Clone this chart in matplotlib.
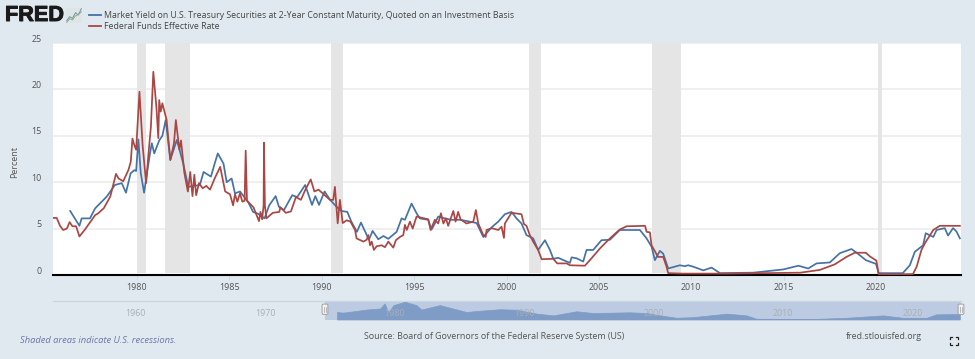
import matplotlib
matplotlib.use("Agg")
import matplotlib.pyplot as plt
import matplotlib.patheffects as pe
from matplotlib.patches import FancyBboxPatch
from matplotlib.transforms import ScaledTranslation

plt.rcParams['font.family'] = ['Open Sans', 'DejaVu Sans']

W, H = 975, 359
BG = '#e1e9f0'
BLUE = '#4572a7'
RED = '#aa4643'
TXT = '#555555'

ffr_years = [1975.47,1975.65,1975.83,1976.0,1976.2,1976.35,1976.5,1976.7,1976.88,1977.18,1977.73,1977.9,1978.2,1978.55,1978.86,1979.0,1979.25,1979.53,1979.66,1979.75,1979.85,1979.95,1980.13,1980.3,1980.49,1980.62,1980.75,1980.88,1981.05,1981.15,1981.2,1981.28,1981.37,1981.6,1981.8,1982.0,1982.1,1982.29,1982.38,1982.56,1982.75,1982.88,1983.0,1983.1,1983.2,1983.35,1983.55,1983.75,1983.95,1984.2,1984.5,1984.77,1985.03,1985.2,1985.3,1985.43,1985.57,1985.7,1985.82,1985.88,1985.95,1986.3,1986.6,1986.68,1986.77,1986.85,1986.87,1986.92,1987.0,1987.35,1987.7,1987.76,1988.05,1988.33,1988.6,1988.87,1989.1,1989.4,1989.6,1989.82,1990.44,1990.62,1990.71,1990.86,1990.98,1991.13,1991.35,1991.55,1991.8,1991.88,1992.25,1992.43,1992.52,1992.61,1992.7,1992.82,1992.97,1993.24,1993.42,1993.6,1993.87,1994.01,1994.23,1994.41,1994.5,1994.6,1994.77,1994.92,1995.13,1995.76,1995.89,1996.12,1996.3,1996.45,1996.58,1996.72,1996.84,1997.12,1997.24,1997.38,1997.51,1997.83,1998.2,1998.34,1998.47,1998.74,1998.87,1998.92,1999.2,1999.55,1999.73,1999.86,1999.91,2000.27,2000.81,2000.94,2001.08,2001.26,2001.44,2001.71,2001.9,2002.53,2002.74,2003.25,2003.43,2004.24,2004.6,2005.05,2005.6,2006.13,2006.5,2007.5,2007.58,2007.76,2007.85,2008.2,2008.48,2008.66,2008.75,2009.5,2012.0,2015.9,2016.96,2017.77,2018.4,2018.85,2019.45,2019.67,2020.02,2020.14,2021.0,2022.0,2022.2,2022.46,2022.64,2023.1,2023.45,2024.54]
ffr_values = [6.15,6.15,5.3,4.85,5.0,5.7,5.25,5.25,4.15,4.9,6.45,6.65,7.2,8.45,10.9,10.4,10.1,11.3,12.2,14.7,14.0,13.5,19.75,14.0,9.9,13.1,16.0,21.9,18.0,14.75,18.85,17.6,18.5,16.7,12.4,14.2,16.7,13.5,14.5,11.0,9.0,11.1,8.5,10.8,8.6,9.9,9.35,9.6,9.2,10.4,11.65,9.0,8.7,7.5,8.7,7.9,8.8,7.9,8.0,13.4,8.0,7.3,5.8,6.8,6.0,7.5,14.25,7.5,6.1,6.7,6.8,7.3,6.7,6.85,8.4,8.1,9.15,10.3,9.0,9.2,8.1,8.1,9.5,5.57,8.1,5.6,5.9,5.75,4.85,3.95,3.6,3.8,4.3,3.2,3.6,2.7,3.1,3.2,3.0,3.6,2.95,3.75,4.1,4.3,5.4,4.85,5.75,5.0,6.3,6.0,4.85,5.95,5.55,6.65,5.55,6.1,5.3,6.9,5.75,6.8,6.0,5.55,5.75,7.0,5.55,4.3,4.1,4.85,5.05,4.85,5.2,4.0,5.55,6.7,6.55,5.5,5.3,4.3,3.6,2.7,1.7,1.75,1.25,1.25,1.05,1.0,1.8,2.85,3.95,4.9,5.25,5.3,4.65,4.6,3.2,1.95,1.95,0.9,0.2,0.15,0.15,0.25,0.55,1.15,1.95,2.4,2.4,2.0,1.55,0.1,0.08,0.1,0.9,2.7,3.4,4.85,5.3,5.3]

gs2_years = [1976.38,1976.88,1977.0,1977.45,1977.73,1978.36,1978.8,1979.17,1979.4,1979.65,1979.85,1979.95,1980.07,1980.2,1980.38,1980.7,1980.8,1980.93,1981.1,1981.2,1981.37,1981.55,1981.8,1982.15,1982.3,1982.5,1982.77,1983.4,1983.6,1984.0,1984.2,1984.37,1984.68,1984.85,1985.12,1985.3,1985.57,1986.0,1986.28,1986.55,1986.9,1987.15,1987.5,1987.68,1987.95,1988.4,1988.67,1989.1,1989.47,1989.65,1989.85,1990.15,1990.45,1990.8,1991.07,1991.38,1991.6,1991.9,1992.12,1992.43,1992.55,1992.75,1993.06,1993.33,1993.6,1994.05,1994.32,1994.5,1994.86,1995.13,1995.31,1995.76,1995.94,1996.12,1996.3,1996.66,1997.0,1997.5,1998.38,1998.74,1999.2,1999.55,1999.91,2000.27,2000.54,2000.81,2001.08,2001.44,2001.71,2002.08,2002.35,2002.53,2002.8,2003.43,2003.52,2003.79,2004.15,2004.33,2004.69,2005.14,2005.6,2006.13,2006.95,2007.22,2007.58,2007.85,2008.03,2008.3,2008.48,2008.75,2009.38,2009.65,2009.83,2010.1,2010.65,2011.1,2011.55,2013.35,2014.98,2015.8,2016.33,2016.78,2017.5,2018.04,2018.67,2018.95,2019.45,2020.0,2020.14,2021.45,2021.83,2022.1,2022.55,2022.69,2023.1,2023.28,2023.72,2023.9,2024.17,2024.35,2024.54]
gs2_values = [6.9,5.3,6.1,6.1,7.18,8.45,9.7,9.9,8.87,10.95,11.3,11.2,14.6,11.0,8.87,13.1,14.2,13.1,14.0,14.5,15.0,16.7,12.4,14.55,13.5,12.0,9.5,9.7,11.1,10.6,12.0,13.1,12.0,10.0,10.4,8.8,9.0,7.9,6.8,6.6,6.1,7.5,8.5,7.35,7.0,8.6,8.4,9.7,7.55,8.5,7.55,9.0,8.1,7.35,6.9,6.8,5.75,4.65,5.65,4.3,3.8,4.75,3.85,4.2,3.9,4.65,6.1,5.95,7.7,6.65,6.1,5.95,4.9,5.55,6.3,6.1,5.95,5.95,5.6,4.1,5.15,5.75,6.55,6.8,6.1,5.55,4.3,3.95,2.7,3.75,2.7,1.75,1.85,1.3,1.9,1.8,1.45,2.7,2.7,3.75,3.8,4.85,4.85,4.85,3.95,3.05,1.6,2.6,2.3,0.7,1.05,0.95,1.05,0.9,0.5,0.8,0.2,0.25,0.6,1.0,0.7,1.25,1.35,2.35,2.8,2.4,1.6,1.2,0.2,0.2,1.05,2.5,3.2,4.5,4.1,4.85,5.05,4.25,5.05,4.7,3.95]

nav_years = [1975.45,1975.95,1977.8,1978.85,1979.2,1979.5,1979.9,1980.8,1981.7,1982.1,1983.55,1985.65,1986.45,1988.3,1989.6,1991.2,1992.5,1994.3,1995.65,1998.5,1999.85,2000.9,2002.2,2003.5,2006.15,2007.7,2008.5,2013.0,2015.6,2018.45,2020.0,2021.9,2022.65,2024.5]
nav_values = [7.3,6.7,9.7,10.7,15.7,7.3,14.0,17.3,14.0,9.7,14.0,7.3,8.3,10.0,9.5,5.7,4.0,8.0,6.3,7.0,6.3,4.0,1.7,2.3,5.7,4.0,0.7,0.5,1.7,4.0,1.7,1.7,5.0,5.3]

rec_start = [1980.0,1981.5,1990.5,2001.2,2007.9,2020.1]
rec_end = [1980.5,1982.88,1991.15,2001.88,2009.42,2020.3]

y_ticks = [0,5,10,15,20,25]
x_ticks = [1980,1985,1990,1995,2000,2005,2010,2015,2020]
nav_ticks = [1960,1970,1980,1990,2000,2010,2020]
logo_vals = [1,2,1.6,3,2.4,4]
logo_vals2 = [0.6,1.5,1.2,2.2,2.6,3.2]

XMIN, XMAX = 1975.45, 2024.6
NAVMIN, NAVMAX = 1953.6, 2023.76
NAV_SEL = 1974.6
FS = 6.4

def axpx(x0, y0, x1, y1, **kw):
    return fig.add_axes([x0/W, 1-y1/H, (x1-x0)/W, (y1-y0)/H], **kw)

fig = plt.figure(figsize=(W/100, H/100), dpi=100, facecolor=BG)
bg = axpx(0, 0, W, H)
bg.set_xlim(0, W); bg.set_ylim(H, 0); bg.axis('off')

ax = axpx(53, 43, 961, 275, facecolor='white')
ax.set_xlim(XMIN, XMAX); ax.set_ylim(0, 25)
ax.set_yticks(y_ticks)
ax.set_xticks(x_ticks)
ax.grid(axis='y', color='#ececec', lw=1.2, zorder=1)
ax.grid(axis='x', visible=False)
ax.set_axisbelow(True)
for s in ('top','left','right'):
    ax.spines[s].set_visible(False)
ax.spines['bottom'].set_color('black'); ax.spines['bottom'].set_linewidth(1.5)
ax.tick_params(axis='y', length=0, pad=8, labelsize=FS, labelcolor=TXT)
ax.tick_params(axis='x', length=3.5, width=0.6, color='#ccd6e0', pad=2, labelsize=FS, labelcolor=TXT)
lift = ScaledTranslation(0, 4/100, fig.dpi_scale_trans)
for l in ax.get_yticklabels():
    l.set_verticalalignment('center')
    l.set_transform(l.get_transform() + lift)
for a, b in zip(rec_start, rec_end):
    ax.axvspan(a, b, ymin=0.008, color='#e5e5e5', lw=0, zorder=1.5)
ax.plot(gs2_years, gs2_values, color=BLUE, lw=1.25, zorder=3, solid_joinstyle='round')
ax.plot(ffr_years, ffr_values, color=RED, lw=1.25, zorder=4, solid_joinstyle='round')
ax.set_ylabel('Percent', fontsize=FS, color=TXT)
ax.yaxis.set_label_coords((19-53)/908, 0.485)

# navigator
nav = axpx(53, 301, 961, 319.5, facecolor=BG)
nav.set_xlim(NAVMIN, NAVMAX); nav.set_ylim(0, 18)
for s in nav.spines.values():
    s.set_visible(False)
nav.spines['top'].set_visible(True); nav.spines['top'].set_color('#ccd5de'); nav.spines['top'].set_linewidth(0.9)
nav.axvspan(NAV_SEL, NAVMAX, color='#bccbe2', lw=0, zorder=1)
nav.set_xticks([]); nav.set_yticks([])
nav_area = axpx(337, 301, 961, 319.5)
nav_area.patch.set_alpha(0)
nav_area.set_xlim(1975.45, 2024.6); nav_area.set_ylim(0, 18); nav_area.axis('off')
nav_area.fill_between(nav_years, 0, nav_values, color='#7f9cc6', lw=0.5)
nav_lab = axpx(53, 301, 961, 319.5)
nav_lab.patch.set_alpha(0)
nav_lab.set_xlim(NAVMIN, NAVMAX); nav_lab.set_ylim(0, 18); nav_lab.axis('off')
for t in nav_ticks:
    nav_lab.text(t, 6.0, str(t), ha='center', va='center', fontsize=FS, color='#a9aeb5')
hd = axpx(0, 0, W, H)
hd.patch.set_alpha(0)
hd.set_xlim(0, W); hd.set_ylim(H, 0); hd.axis('off')
for hx in (325, 961):
    hd.add_patch(FancyBboxPatch((hx-2.5, 304.5), 5, 9.5, boxstyle='round,pad=0.4,rounding_size=1.2',
                                fc='#f2f2f2', ec='#a0a0a0', lw=0.7, zorder=10))
    hd.plot([hx-0.7, hx-0.7], [306.5, 312], color='#a0a0a0', lw=0.5, zorder=11)
    hd.plot([hx+0.9, hx+0.9], [306.5, 312], color='#a0a0a0', lw=0.5, zorder=11)

# legend
bg.plot([89, 101], [15, 15], color=BLUE, lw=1.3)
bg.plot([89, 101], [26, 26], color=RED, lw=1.3)
bg.text(104, 15.2, 'Market Yield on U.S. Treasury Securities at 2-Year Constant Maturity, Quoted on an Investment Basis',
        fontsize=6.35, color='#444444', va='center')
bg.text(104, 26.5, 'Federal Funds Effective Rate', fontsize=6.35, color='#444444', va='center')

# logo
logo_text = bg.text(5, 15.5, 'FRED', fontsize=15.6, fontweight='bold', color='#1a1a1a', va='center', family='Liberation Sans')
logo_text.set_path_effects([pe.withStroke(linewidth=0.7, foreground='#1a1a1a')])
logo = axpx(66, 8, 82, 23, facecolor='#dfe4e6')
logo.set_xticks([]); logo.set_yticks([])
for s in logo.spines.values():
    s.set_visible(False)
logo.plot(logo_vals, color='#6f93b8', lw=0.7)
logo.plot(logo_vals2, color='#8fae72', lw=0.7)

# footer
bg.text(20, 340.5, 'Shaded areas indicate U.S. recessions.', fontsize=6.78, style='italic', color='#6a78a8', va='center')
bg.text(364, 336.5, 'Source: Board of Governors of the Federal Reserve System (US)', fontsize=6.37, color=TXT, va='center')
bg.text(846, 336.5, 'fred.stlouisfed.org', fontsize=6.4, color=TXT, va='center')
for cx, cy, dx, dy in ((950, 337, 1, 1), (958, 337, -1, 1), (950, 345, 1, -1), (958, 345, -1, -1)):
    bg.plot([cx+2.4*dx, cx, cx], [cy, cy, cy+2.4*dy], color='#222222', lw=0.9, solid_joinstyle='miter')

fig.savefig('out.png', dpi=100, facecolor=BG)
